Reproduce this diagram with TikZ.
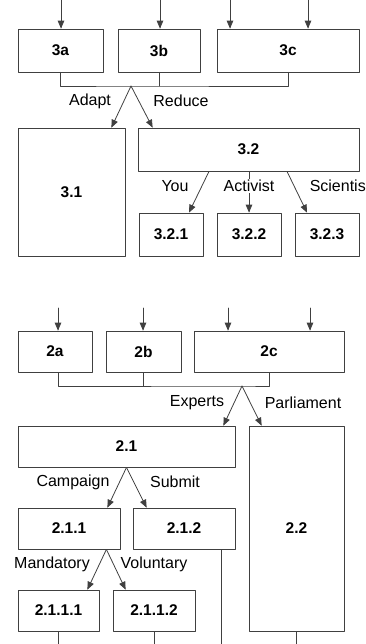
\documentclass[tikz,border=0pt]{standalone}
\usepackage{fontspec}
\setmainfont{Liberation Sans}
\usetikzlibrary{arrows}

\begin{document}
\begin{tikzpicture}[line cap=round,line join=round,>=triangle 45,x=1pt,y=-1pt,
	box/.style={draw=black!75,line width=0.8pt,inner sep=0pt,font=\fontsize{15.5}{18}\selectfont\bfseries},
	lbl/.style={fill=white,inner sep=1pt,font=\fontsize{16}{19}\selectfont},
	conn/.style={draw=black!75,line width=0.8pt}]
				\useasboundingbox (0,0) rectangle (366,644);
				\node[box,minimum width=85pt,minimum height=43pt] (n3a) at (60.5,50.5) {3a};
				\node[box,minimum width=82pt,minimum height=43pt] (n3b) at (159,50.5) {3b};
				\node[box,minimum width=142pt,minimum height=43pt] (n3c) at (288,50.5) {3c};
				\node[box,minimum width=107pt,minimum height=128pt] (n31) at (71.5,192) {3.1};
				\node[box,minimum width=221pt,minimum height=43pt] (n32) at (248.5,149.5) {3.2};
				\node[box,minimum width=64pt,minimum height=43pt] (n321) at (171,234.5) {3.2.1};
				\node[box,minimum width=64pt,minimum height=43pt] (n322) at (249,234.5) {3.2.2};
				\node[box,minimum width=64pt,minimum height=43pt] (n323) at (327,234.5) {3.2.3};
				\coordinate (in3a) at (61,0);
				\coordinate (in3b) at (160,0);
				\coordinate (in3c) at (230,0);
				\coordinate (in3d) at (308,0);
				\coordinate (j3) at (131,86);
				\draw[conn,->] (in3a) -- (in3a |- n3a.north);
				\draw[conn,->] (in3b) -- (in3b |- n3b.north);
				\draw[conn,->] (in3c) -- (in3c |- n3c.north);
				\draw[conn,->] (in3d) -- (in3d |- n3c.north);
				\draw[conn] (n3a.south) |- (j3) -| (n3c.south);
				\draw[conn] (n3b.south) -- (n3b.south |- j3);
				\draw[conn,->] (j3) -- ([xshift=-14pt]n31.north east);
				\draw[conn,->] (j3) -- ([xshift=15pt]n32.north west);
				\draw[conn,->] ([xshift=-39.5pt]n32.south) -- ([xshift=18pt]n321.north);
				\draw[conn,->] (n32.south -| n322.north) -- (n322.north);
				\draw[conn,->] ([xshift=38.5pt]n32.south) -- ([xshift=-20pt]n323.north);
				\node[lbl] (lAdapt) at (90,101) {Adapt};
				\node[lbl] (lReduce) at (181,101) {Reduce};
				\node[lbl] (lYou) at (175,186) {You};
				\node[lbl] (lActivist) at (249,186) {Activist};
				\node[lbl] (lScientist) at (340,186) {Scientist};
				\node[box,minimum width=74pt,minimum height=41pt] (n2a) at (55,351.5) {2a};
				\node[box,minimum width=75pt,minimum height=41pt] (n2b) at (143.5,351.5) {2b};
				\node[box,minimum width=150pt,minimum height=41pt] (n2c) at (269,351.5) {2c};
				\node[box,minimum width=217pt,minimum height=41pt] (n21) at (126.5,446.5) {2.1};
				\node[box,minimum width=95pt,minimum height=205pt] (n22) at (296.5,528.5) {2.2};
				\node[box,minimum width=102pt,minimum height=41pt] (n211) at (69,528.5) {2.1.1};
				\node[box,minimum width=102pt,minimum height=41pt] (n212) at (184,528.5) {2.1.2};
				\node[box,minimum width=81pt,minimum height=41pt] (n2111) at (58.5,610.5) {2.1.1.1};
				\node[box,minimum width=82pt,minimum height=41pt] (n2112) at (154,610.5) {2.1.1.2};
				\coordinate (in2a) at (58,308);
				\coordinate (in2b) at (143,308);
				\coordinate (in2c) at (228,308);
				\coordinate (in2d) at (310,308);
				\coordinate (j2) at (242,386);
				\coordinate (j211) at ([xshift=-14pt]n211.south east);
				\coordinate (out2111) at (58.5,644);
				\coordinate (out2112) at (154,644);
				\coordinate (out212) at (221,644);
				\coordinate (out22) at (296.5,644);
				\draw[conn,->] (in2a) -- (in2a |- n2a.north);
				\draw[conn,->] (in2b) -- (in2b |- n2b.north);
				\draw[conn,->] (in2c) -- (in2c |- n2c.north);
				\draw[conn,->] (in2d) -- (in2d |- n2c.north);
				\draw[conn] ([xshift=3pt]n2a.south) |- (j2) -| (n2c.south);
				\draw[conn] (n2b.south) -- (n2b.south |- j2);
				\draw[conn,->] (j2) -- ([xshift=-12pt]n21.north east);
				\draw[conn,->] (j2) -- ([xshift=13pt]n22.north west);
				\draw[conn,->] (n21.south) -- ([xshift=-13pt]n211.north east);
				\draw[conn,->] (n21.south) -- ([xshift=14pt]n212.north west);
				\draw[conn,->] (j211) -- ([xshift=-12pt]n2111.north east);
				\draw[conn,->] (j211) -- ([xshift=13pt]n2112.north west);
				\draw[conn] (n2111.south) -- (out2111);
				\draw[conn] (n2112.south) -- (out2112);
				\draw[conn] (n212.south -| out212) -- (out212);
				\draw[conn] (n22.south) -- (out22);
				\node[lbl] (lExperts) at (197,403) {Experts};
				\node[lbl] (lParliament) at (303,403) {Parliament};
				\node[lbl] (lCampaign) at (73,482) {Campaign};
				\node[lbl] (lSubmit) at (175,482) {Submit};
				\node[lbl] (lMandatory) at (52,564) {Mandatory};
				\node[lbl] (lVoluntary) at (154,564) {Voluntary};
			\end{tikzpicture}
\end{document}
